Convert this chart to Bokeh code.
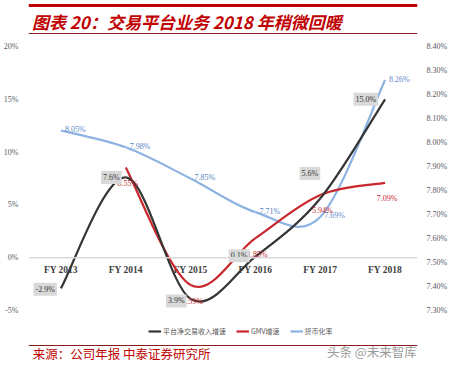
from bokeh.plotting import figure
from bokeh.layouts import column
from bokeh.models import (Range1d, LinearAxis, FixedTicker, PrintfTickFormatter, Span,
                          Legend, LegendItem, ColumnDataSource)
from bokeh.core.properties import value
from bokeh.embed import file_html
from bokeh.resources import INLINE

# ---------------- data ----------------
categories = ["FY 2013", "FY 2014", "FY 2015", "FY 2016", "FY 2017", "FY 2018"]
net_rev_growth = [-2.9, 7.6, -3.9, 0.1, 5.6, 15.0]          # 平台净交易收入增速 (%)
gmv_growth = [None, 8.55, -2.59, 1.85, 5.94, 7.09]           # GMV增速 (%)
take_rate = [8.05, 7.98, 7.85, 7.71, 7.69, 8.26]             # 货币化率 (%)
net_rev_labels = ["-2.9%", "7.6%", "3.9%", "0.1%", "5.6%", "15.0%"]
gmv_labels = ["", "8.55%", "2.59%", "1.85%", "5.94%", "7.09%"]
take_rate_labels = ["8.05%", "7.98%", "7.85%", "7.71%", "7.69%", "8.26%"]
left_ticks = [-5, 0, 5, 10, 15, 20]
right_ticks = [7.3, 7.4, 7.5, 7.6, 7.7, 7.8, 7.9, 8.0, 8.1, 8.2, 8.3, 8.4]
series_names = ["平台净交易收入增速", "GMV增速", "货币化率"]
title_text = "图表 20：交易平台业务 2018 年稍微回暖"
source_text = "来源：公司年报 中泰证券研究所"
watermark_text = "头条 @未来智库"

# label offsets (style only)
black_dx = [-4, -4, -4, -6, 0, -7]
black_dy = [1, 0, 2, -1, -25, 0]

BLACK = "#353535"
RED = "#c8282d"
BLUE = "#8db3e2"
SERIF = "Liberation Serif"
CJK = "Noto Sans CJK SC"
W = 450


def smooth_segments(xs, ys):
    pts = [(x, y) for x, y in zip(xs, ys) if y is not None]
    n = len(pts)
    d = dict(x0=[], y0=[], x1=[], y1=[], cx0=[], cy0=[], cx1=[], cy1=[])
    for i in range(n - 1):
        p0 = pts[i - 1] if i > 0 else pts[i]
        p1 = pts[i]
        p2 = pts[i + 1]
        p3 = pts[i + 2] if i + 2 < n else pts[i + 1]
        d["x0"].append(p1[0]); d["y0"].append(p1[1])
        d["x1"].append(p2[0]); d["y1"].append(p2[1])
        d["cx0"].append(p1[0] + (p2[0] - p0[0]) / 6.0)
        d["cy0"].append(p1[1] + (p2[1] - p0[1]) / 6.0)
        d["cx1"].append(p2[0] - (p3[0] - p1[0]) / 6.0)
        d["cy1"].append(p2[1] - (p3[1] - p1[1]) / 6.0)
    return ColumnDataSource(d)


def banner(height):
    f = figure(width=W, height=height, output_backend="svg", toolbar_location=None,
               x_range=Range1d(0, W), y_range=Range1d(height, 0),
               x_axis_location=None, y_axis_location=None, min_border=0,
               outline_line_color=None, background_fill_color="white", border_fill_color="white")
    f.xgrid.visible = False
    f.ygrid.visible = False
    return f


# ---------------- header ----------------
top = banner(34)
top.line(x=[0, W], y=[5, 5], line_color="#c00000", line_width=3)
top.line(x=[0, W], y=[33, 33], line_color="#8b1a1a", line_width=1)
top.text(x=[4], y=[21], text=[title_text], text_align="left", text_baseline="middle",
         text_font=value(CJK), text_font_style="bold italic", text_font_size="17px",
         text_color="#c00000")

# ---------------- chart ----------------
idx = list(range(len(categories)))
p = figure(width=W, height=304, output_backend="svg", toolbar_location=None,
           x_range=Range1d(-0.5, 5.5), y_range=Range1d(-7.557, 20.758),
           x_axis_location=None, y_axis_location=None,
           min_border_left=22, min_border_right=30, min_border_top=4, min_border_bottom=1,
           outline_line_color=None, background_fill_color="white", border_fill_color="white")
p.extra_y_ranges = {"rate": Range1d(7.1875, 8.4333)}
p.xgrid.visible = False
p.ygrid.visible = False


def style_axis(ax, standoff):
    ax.axis_line_color = None
    ax.major_tick_line_color = None
    ax.minor_tick_line_color = None
    ax.major_label_text_font = SERIF
    ax.major_label_text_font_size = "8px"
    ax.major_label_text_color = "#595959"
    ax.major_label_standoff = standoff


ly = LinearAxis(ticker=FixedTicker(ticks=left_ticks), formatter=PrintfTickFormatter(format="%d%%"))
style_axis(ly, 4)
p.add_layout(ly, "left")
ry = LinearAxis(y_range_name="rate", ticker=FixedTicker(ticks=right_ticks),
                formatter=PrintfTickFormatter(format="%.2f%%"))
style_axis(ry, 3)
p.add_layout(ry, "right")

p.add_layout(Span(location=0, dimension="width", line_color="#d9d9d9", line_width=1.5))

# category labels along the zero line
p.text(x=idx, y=[0] * len(idx), text=categories, text_align="center", text_baseline="middle",
       y_offset=12, text_font=value(SERIF), text_font_style="bold", text_font_size="9.5px",
       text_color="#404040")

bez = dict(x0="x0", y0="y0", x1="x1", y1="y1", cx0="cx0", cy0="cy0", cx1="cx1", cy1="cy1")
r_blue = p.bezier(source=smooth_segments(idx, take_rate), y_range_name="rate",
                  line_color=BLUE, line_width=2.2, **bez)
r_red = p.bezier(source=smooth_segments(idx, gmv_growth), line_color=RED, line_width=2.2, **bez)
r_black = p.bezier(source=smooth_segments(idx, net_rev_growth), line_color=BLACK, line_width=2.2,
                   **bez)

# data labels
p.text(x=idx, y=take_rate, text=take_rate_labels, y_range_name="rate", x_offset=4, y_offset=-1,
       text_align="left", text_baseline="middle", text_font=value(SERIF), text_font_size="8px",
       text_color="#5b86c5")
gx = [i for i, v in zip(idx, gmv_growth) if v is not None]
gy = [v for v in gmv_growth if v is not None]
gl = [l for l, v in zip(gmv_labels, gmv_growth) if v is not None]
p.text(x=gx, y=gy, text=gl, x_offset=2, y_offset=16, text_align="center", text_baseline="middle",
       text_font=value(SERIF), text_font_size="8px", text_color=RED)
bsrc = ColumnDataSource(dict(x=idx, y=net_rev_growth, t=net_rev_labels, dx=black_dx, dy=black_dy))
p.text(x="x", y="y", text="t", x_offset="dx", y_offset="dy", source=bsrc, text_align="right",
       text_baseline="middle", text_font=value(SERIF), text_font_size="8px", text_color="#333333",
       background_fill_color="#d9d9d9", padding=2)

legend = Legend(items=[LegendItem(label=series_names[0], renderers=[r_black]),
                       LegendItem(label=series_names[1], renderers=[r_red]),
                       LegendItem(label=series_names[2], renderers=[r_blue])],
                orientation="horizontal", location=(120, 1), label_text_font=CJK,
                label_text_font_size="7px", label_text_color="#595959", glyph_width=13,
                glyph_height=8, label_height=8, label_standoff=2, spacing=10, padding=0, margin=0,
                border_line_color=None, background_fill_alpha=0)
p.add_layout(legend, "center")

# ---------------- footer ----------------
bot = banner(28)
bot.line(x=[0, W], y=[7, 7], line_color="#8b1a1a", line_width=1)
bot.text(x=[5], y=[15], text=[source_text], text_align="left", text_baseline="middle",
         text_font=value(CJK), text_font_size="12.5px", text_color="#c00000")
bot.text(x=[449], y=[13], text=[watermark_text], text_align="right", text_baseline="middle",
         text_font=value(CJK), text_font_size="12.5px", text_color="#9a9a9a")

layout = column(top, p, bot, spacing=0)
open("out.html", "w").write(file_html(layout, INLINE))
